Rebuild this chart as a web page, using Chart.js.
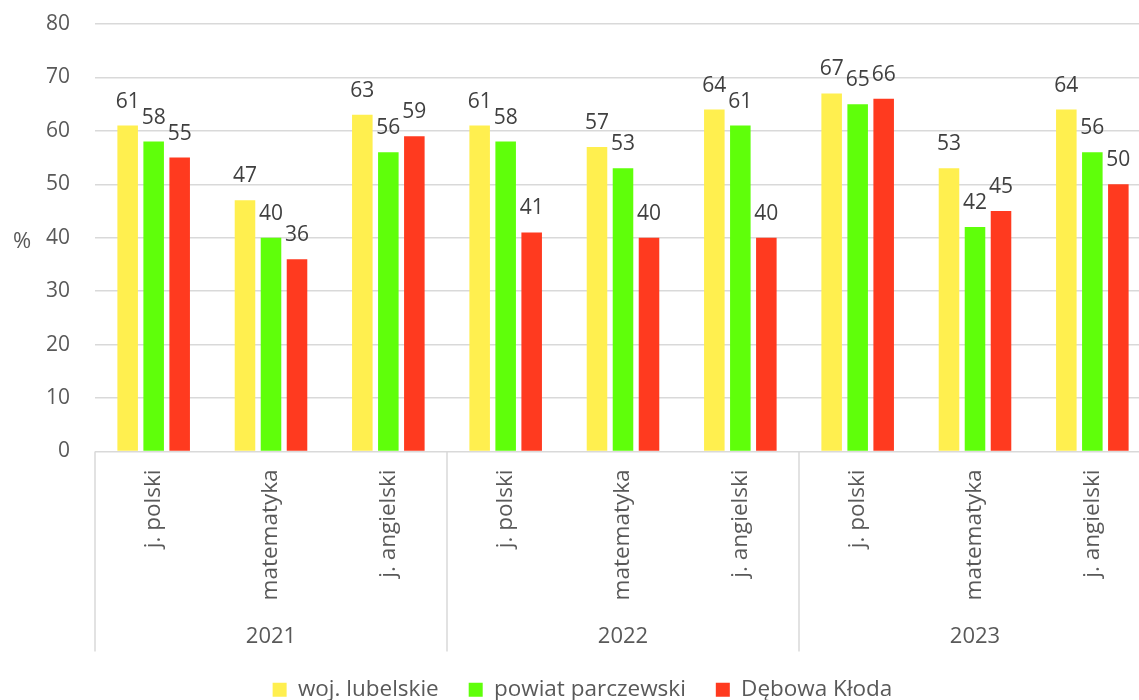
<!DOCTYPE html>
<html>
<head>
<meta charset="utf-8">
<script src="https://cdn.jsdelivr.net/npm/chart.js@4"></script>
<style>
  html, body { margin: 0; padding: 0; background: #fff; overflow: hidden; }
  #wrap { width: 1170px; height: 700px; position: relative; }
</style>
</head>
<body>
<div id="wrap"><canvas id="c"></canvas></div>
<script>
const categories = ['j. polski', 'matematyka', 'j. angielski', 'j. polski', 'matematyka', 'j. angielski', 'j. polski', 'matematyka', 'j. angielski'];
const years = ['2021', '2022', '2023'];
const seriesNames = ['woj. lubelskie', 'powiat parczewski', 'Dębowa Kłoda'];
const wojLubelskie = [61, 47, 63, 61, 57, 64, 67, 53, 64];
const powiatParczewski = [58, 40, 56, 58, 53, 61, 65, 42, 56];
const debowaKloda = [55, 36, 59, 41, 40, 40, 66, 45, 50];
const yTicks = [0, 10, 20, 30, 40, 50, 60, 70, 80];

const FONT = '"Open Sans", "Noto Sans", sans-serif';
const GRID = '#d9d9d9';
const TXT = '#595959';

const dataLabels = {
  id: 'dataLabels',
  afterDatasetsDraw(chart) {
    const ctx = chart.ctx;
    ctx.save();
    ctx.font = '21px ' + FONT;
    ctx.fillStyle = '#404040';
    ctx.textAlign = 'center';
    ctx.textBaseline = 'alphabetic';
    chart.data.datasets.forEach((ds, di) => {
      const meta = chart.getDatasetMeta(di);
      meta.data.forEach((el, i) => {
        ctx.fillText(String(ds.data[i]), el.x, el.y - 18);
      });
    });
    ctx.restore();
  }
};

const extras = {
  id: 'extras',
  afterDraw(chart) {
    const ctx = chart.ctx;
    const ca = chart.chartArea;
    const x2 = chart.scales.x2;
    ctx.save();
    const half = (x2.getPixelForValue(1) - x2.getPixelForValue(0)) / 2;
    ctx.strokeStyle = GRID;
    ctx.lineWidth = 1.5;
    for (let i = 0; i <= years.length; i++) {
      const px = x2.getPixelForValue(0) - half + i * 2 * half;
      ctx.beginPath();
      ctx.moveTo(px, ca.bottom);
      ctx.lineTo(px, x2.bottom + 3);
      ctx.stroke();
    }
    ctx.font = '22px ' + FONT;
    ctx.fillStyle = TXT;
    ctx.textAlign = 'center';
    ctx.textBaseline = 'middle';
    ctx.fillText('%', 22, (ca.top + ca.bottom) / 2 + 4);
    ctx.restore();
  }
};

new Chart(document.getElementById('c'), {
  type: 'bar',
  data: {
    labels: categories,
    datasets: [
      { label: seriesNames[0], data: wojLubelskie, backgroundColor: '#FFEF4F' },
      { label: seriesNames[1], data: powiatParczewski, backgroundColor: '#5FFF0A' },
      { label: seriesNames[2], data: debowaKloda, backgroundColor: '#FF3A1F' }
    ]
  },
  options: {
    responsive: true,
    maintainAspectRatio: false,
    animation: false,
    layout: { padding: { top: 24, left: 14, right: 19, bottom: -11 } },
    datasets: { bar: { categoryPercentage: 0.665, barPercentage: 0.79 } },
    plugins: {
      legend: {
        position: 'bottom',
        labels: {
          font: { family: FONT, size: 22.5 },
          color: TXT,
          boxWidth: 14,
          boxHeight: 14,
          padding: 30
        }
      },
      tooltip: { enabled: false }
    },
    scales: {
      y: {
        min: 0, max: 80,
        afterBuildTicks(s) { s.ticks = yTicks.map(v => ({ value: v })); },
        afterFit(s) { s.width = 81; },
        ticks: { font: { family: FONT, size: 21 }, color: TXT, padding: 0 },
        grid: { color: GRID, lineWidth: 1.5, drawTicks: true, tickLength: 25, tickColor: 'rgba(0,0,0,0)' },
        border: { display: false }
      },
      x: {
        weight: 0,
        afterFit(s) { s.height = 150; },
        ticks: { font: { family: FONT, size: 22.5 }, color: TXT, minRotation: 90, maxRotation: 90, padding: 18, autoSkip: false },
        grid: { display: false, drawTicks: false },
        border: { display: false }
      },
      x2: {
        type: 'category',
        position: 'bottom',
        weight: 1,
        labels: years,
        offset: true,
        afterFit(s) { s.height = 47; },
        ticks: { font: { family: FONT, size: 22 }, color: TXT, padding: 22 },
        grid: { display: false, drawTicks: false },
        border: { display: false }
      }
    }
  },
  plugins: [dataLabels, extras]
});
</script>
</body>
</html>
